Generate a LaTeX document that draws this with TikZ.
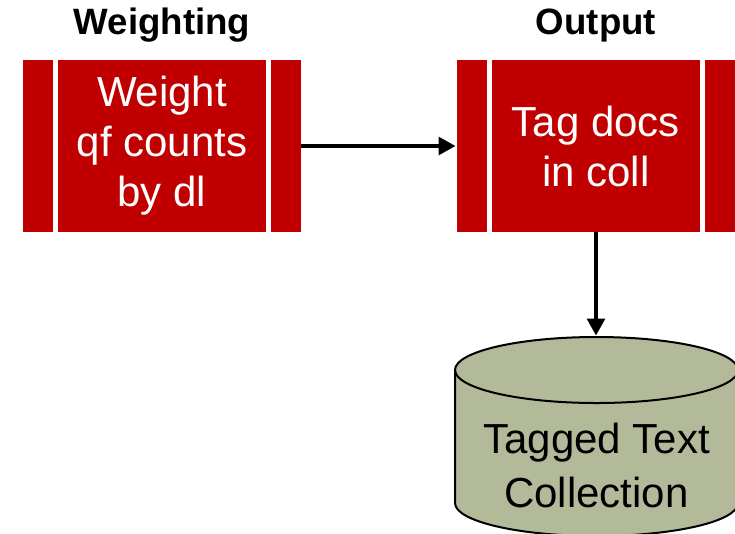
\documentclass[tikz,border=0pt]{standalone}
\usepackage{fontspec}
\setmainfont{Liberation Sans}
\usetikzlibrary{arrows.meta,positioning}
\definecolor{boxred}{RGB}{192,0,0}
\definecolor{collgreen}{RGB}{179,186,154}

\begin{document}
\begin{tikzpicture}[x=0.75pt,y=-0.75pt,
  >={Triangle[length=12.75pt,width=13pt]},node distance=3.75pt,
  stage/.style={fill=boxred,text=white,minimum width=156pt,minimum height=129pt,
    inner sep=0pt,outer sep=0pt,align=center,font=\fontsize{31.5}{37.5}\selectfont},
  bar/.style={fill=boxred,minimum width=22.5pt,minimum height=129pt,inner sep=0pt,outer sep=0pt},
  heading/.style={font=\fontsize{27.5}{30}\selectfont\bfseries,inner sep=0pt},
  flow/.style={->,line width=3.2pt,shorten >=1pt}]
  \useasboundingbox (0,0) rectangle (735,533);

  % weighting stage
  \node[stage] (weight) at (162,146) {Weight\\qf counts\\by dl};
  \node[bar] (weightL) [left=of weight] {};
  \node[bar] (weightR) [right=of weight] {};
  \node[heading] (wtitle) [above=13pt of weight] {Weighting};

  % output stage
  \node[stage] (tag) at (596,146) {Tag docs\\in coll};
  \node[bar] (tagL) [left=of tag] {};
  \node[bar] (tagR) [right=of tag] {};
  \node[heading] (otitle) [above=13pt of tag] {Output};

  % tagged collection
  \filldraw[fill=collgreen,line width=1.5pt] (455,370) -- (455,503)
    arc[start angle=180,end angle=0,x radius=141.5,y radius=33] -- (738,370)
    arc[start angle=0,end angle=-180,x radius=141.5,y radius=33] -- cycle;
  \draw[line width=1.5pt] (455,370) arc[start angle=180,end angle=0,x radius=141.5,y radius=33];
  \node[align=center,font=\fontsize{31.5}{40.5}\selectfont,inner sep=0pt] (coll) at (596.5,465.5) {Tagged Text\\Collection};
  \coordinate (colltop) at (596,337);

  \draw[flow] (weightR) -- (tagL);
  \draw[flow] (tag) -- (colltop);
\end{tikzpicture}
\end{document}
